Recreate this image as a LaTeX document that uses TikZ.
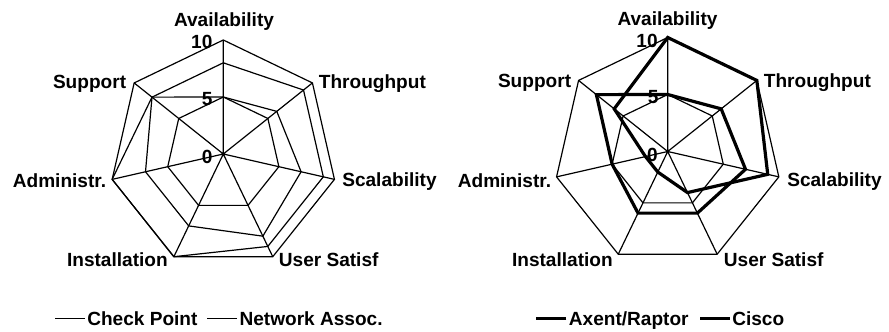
\documentclass[tikz,border=0pt]{standalone}
\usepackage{fontspec}
\setmainfont{Liberation Sans}
\usepackage{tikz}
\tikzset{every picture/.style={line width=0.9pt}}
\tikzset{chartlbl/.style={font=\bfseries\fontsize{14.3}{17}\selectfont, inner sep=0pt},
  thickser/.style={line width=2.4pt}}

\begin{document}
\begin{tikzpicture}[x=0.75pt,y=0.75pt,yscale=-1,xscale=1]
\useasboundingbox (0,0) rectangle (889,332);

%Left chart: grid at 10
\draw [shift={(223.3,154)}] (-90:114) -- (-38.57:114) -- (12.86:114) -- (64.29:114) -- (115.71:114) -- (167.14:114) -- (218.57:114) -- cycle ;
%Left chart: grid at 5
\draw [shift={(223.3,154)}] (-90:57) -- (-38.57:57) -- (12.86:57) -- (64.29:57) -- (115.71:57) -- (167.14:57) -- (218.57:57) -- cycle ;
%Left chart: axes
\draw [shift={(223.3,154)}] (0,0) -- (-90:114) (0,0) -- (-38.57:114) (0,0) -- (12.86:114) (0,0) -- (64.29:114) (0,0) -- (115.71:114) (0,0) -- (167.14:114) (0,0) -- (218.57:114) ;
%Left chart: Check Point
\draw [shift={(223.3,154)}] (-90:91.2) -- (-38.57:102.6) -- (12.86:102.6) -- (64.29:102.6) -- (115.71:114) -- (167.14:114) -- (218.57:91.2) -- cycle ;
%Left chart: Network Assoc.
\draw [shift={(223.3,154)}] (-90:57) -- (-38.57:68.4) -- (12.86:79.8) -- (64.29:91.2) -- (115.71:79.8) -- (167.14:79.8) -- (218.57:91.2) -- cycle ;

%Right chart: grid at 10
\draw [shift={(667.7,151.5)}] (-90:114) -- (-38.57:114) -- (12.86:114) -- (64.29:114) -- (115.71:114) -- (167.14:114) -- (218.57:114) -- cycle ;
%Right chart: grid at 5
\draw [shift={(667.7,151.5)}] (-90:57) -- (-38.57:57) -- (12.86:57) -- (64.29:57) -- (115.71:57) -- (167.14:57) -- (218.57:57) -- cycle ;
%Right chart: axes
\draw [shift={(667.7,151.5)}] (0,0) -- (-90:114) (0,0) -- (-38.57:114) (0,0) -- (12.86:114) (0,0) -- (64.29:114) (0,0) -- (115.71:114) (0,0) -- (167.14:114) (0,0) -- (218.57:114) ;
%Right chart: Axent/Raptor
\draw [thickser, shift={(667.7,151.5)}] (-90:114) -- (-38.57:114) -- (12.86:102.6) -- (64.29:45.6) -- (115.71:22.8) -- (167.14:22.8) -- (218.57:68.4) -- cycle ;
%Right chart: Cisco
\draw [thickser, shift={(667.7,151.5)}] (-90:57) -- (-38.57:68.4) -- (12.86:79.8) -- (64.29:68.4) -- (115.71:68.4) -- (167.14:57) -- (218.57:91.2) -- cycle ;

% Text Node
\node [chartlbl, anchor=base] (lavail) at (224,26.7) {Availability};
% Text Node
\node [chartlbl, anchor=base west] (lthru) at (318.3,88) {Throughput};
% Text Node
\node [chartlbl, anchor=base west] (lscal) at (341.7,186) {Scalability};
% Text Node
\node [chartlbl, anchor=base west] (luser) at (278.3,266) {User Satisf};
% Text Node
\node [chartlbl, anchor=base east] (linst) at (168.3,266) {Installation};
% Text Node
\node [chartlbl, anchor=base east] (ladmin) at (106.7,187.7) {Administr.};
% Text Node
\node [chartlbl, anchor=base east] (lsupp) at (126.7,88) {Support};
% Text Node
\node [chartlbl, anchor=base east] (lten) at (213,48.5) {10};
% Text Node
\node [chartlbl, anchor=base east] (lfive) at (213,105) {5};
% Text Node
\node [chartlbl, anchor=base east] (lzero) at (213,163) {0};

% Text Node
\node [chartlbl, anchor=base] (ravail) at (667.5,26) {Availability};
% Text Node
\node [chartlbl, anchor=base west] (rthru) at (763.3,87.5) {Throughput};
% Text Node
\node [chartlbl, anchor=base west] (rscal) at (786.7,186) {Scalability};
% Text Node
\node [chartlbl, anchor=base west] (ruser) at (723.3,266) {User Satisf};
% Text Node
\node [chartlbl, anchor=base east] (rinst) at (613.3,266) {Installation};
% Text Node
\node [chartlbl, anchor=base east] (radmin) at (551.7,187) {Administr.};
% Text Node
\node [chartlbl, anchor=base east] (rsupp) at (571.7,87) {Support};
% Text Node
\node [chartlbl, anchor=base east] (rten) at (658.3,47) {10};
% Text Node
\node [chartlbl, anchor=base east] (rfive) at (659,103.5) {5};
% Text Node
\node [chartlbl, anchor=base east] (rzero) at (658.3,161.7) {0};

%Legends
\node [chartlbl, anchor=base west] (lgcp) at (86.7,325.7) {Check Point};
\draw ([shift={(-2,-7.2)}]lgcp.base west) -- ++(-30,0) ;
\node [chartlbl, anchor=base west] (lgna) at (239,325.7) {Network Assoc.};
\draw ([shift={(-2,-7.2)}]lgna.base west) -- ++(-30,0) ;
\node [chartlbl, anchor=base west] (lgax) at (568.3,325.7) {Axent/Raptor};
\draw [thickser] ([shift={(-2,-7.2)}]lgax.base west) -- ++(-30,0) ;
\node [chartlbl, anchor=base west] (lgci) at (731.7,325.7) {Cisco};
\draw [thickser] ([shift={(-2,-7.2)}]lgci.base west) -- ++(-30,0) ;

\end{tikzpicture}
\end{document}
